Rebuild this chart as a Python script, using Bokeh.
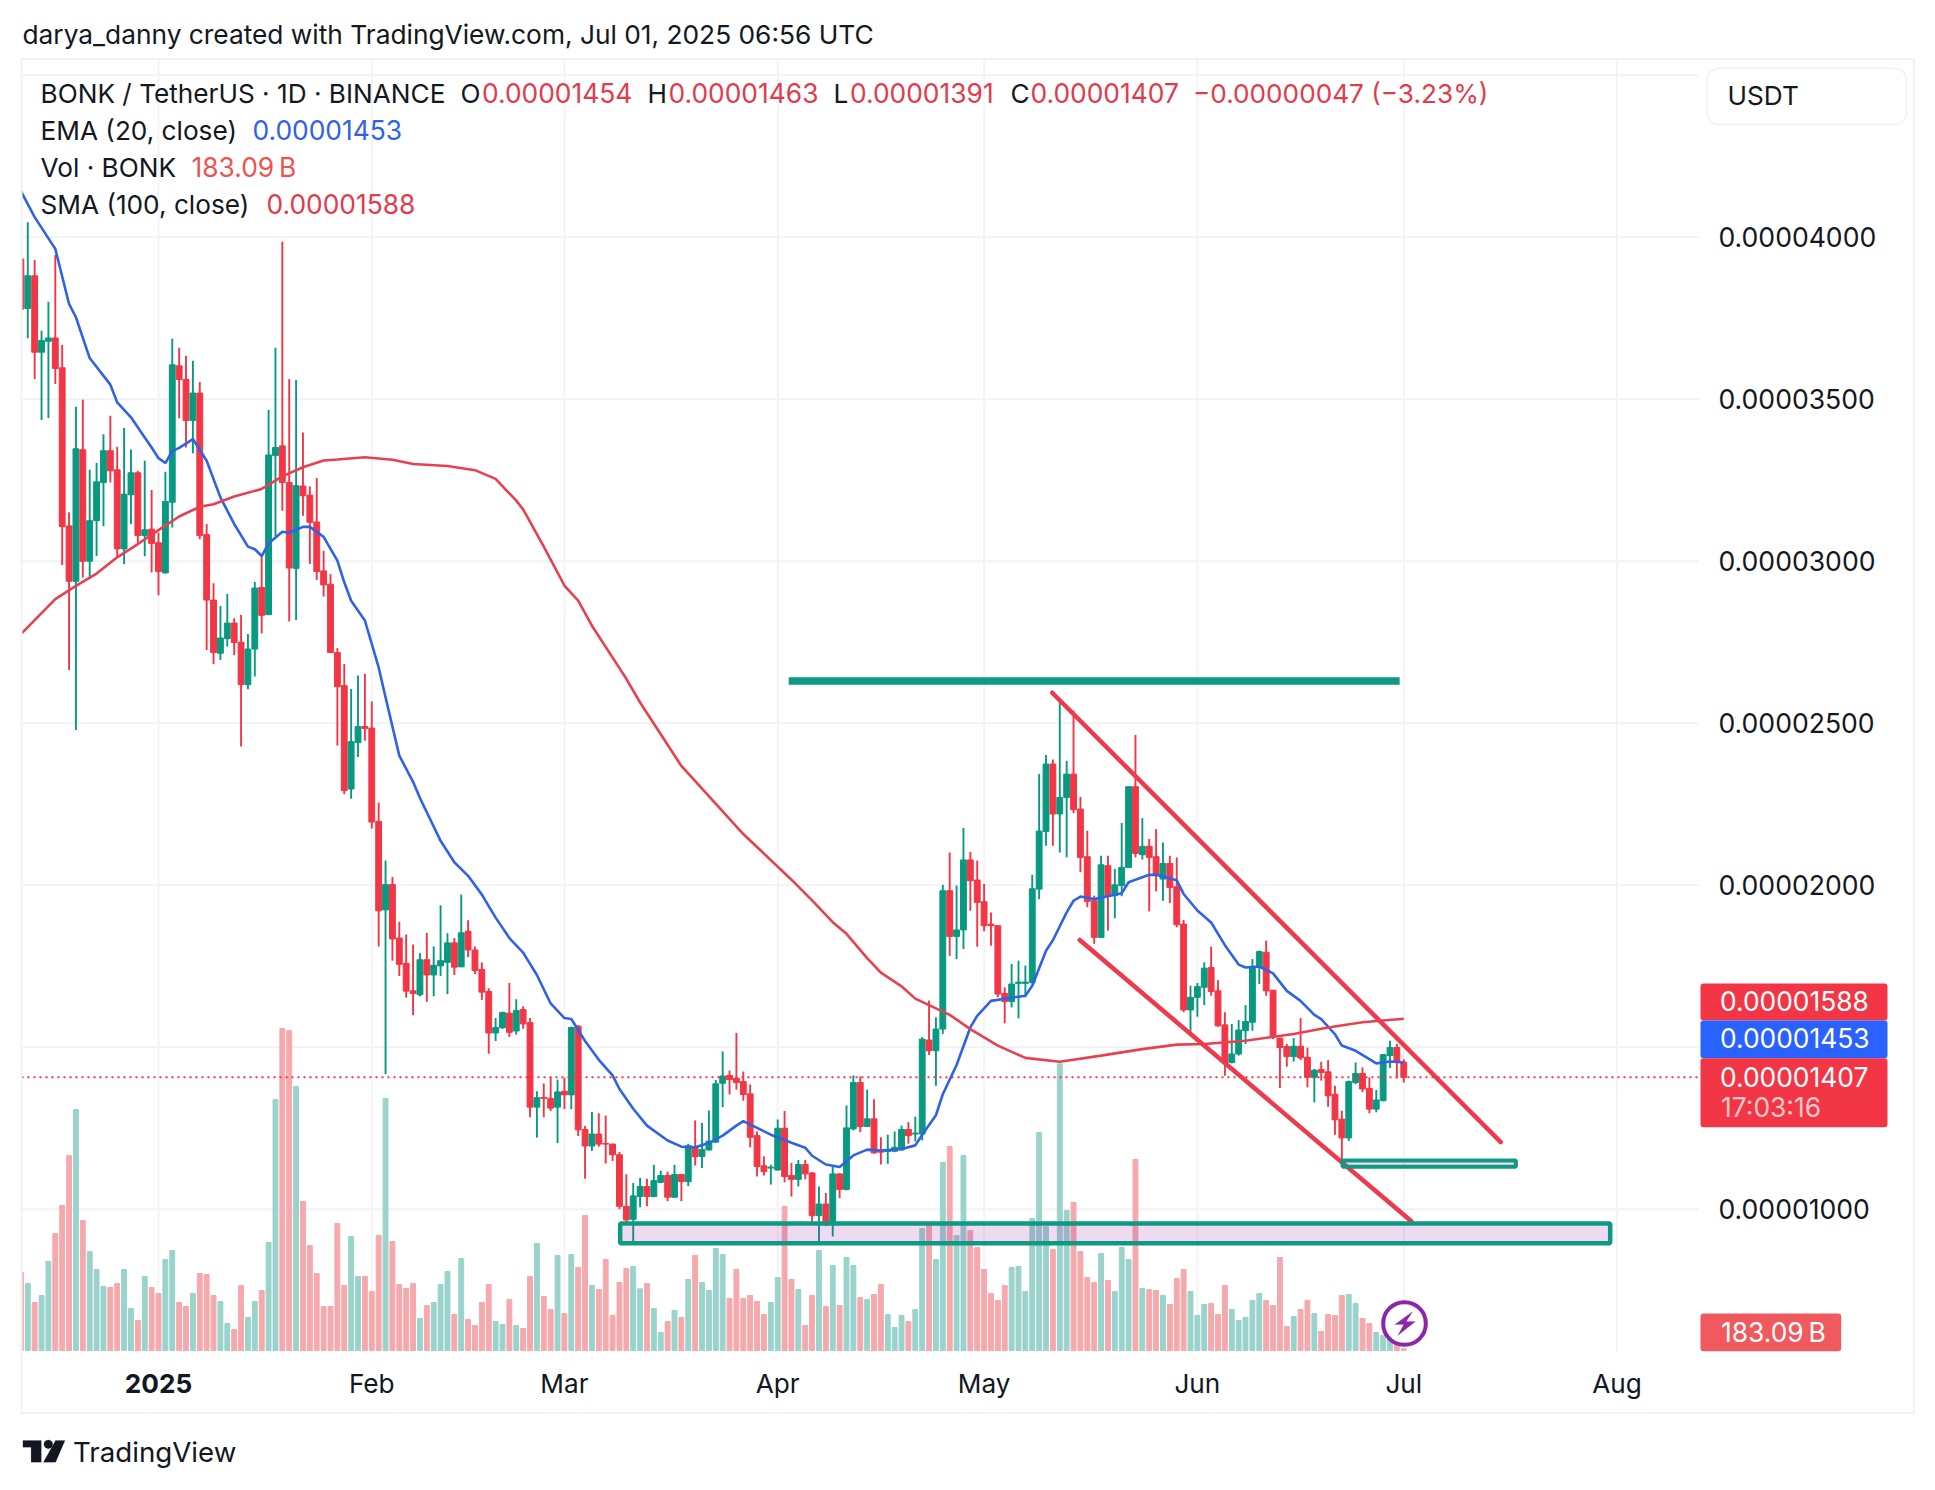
import math
from bokeh.plotting import figure
from bokeh.embed import file_html
from bokeh.resources import INLINE
from bokeh.models import (Label, BoxAnnotation, PolyAnnotation, FixedTicker, Range1d,
                          ColumnDataSource)

# ---- values are prices in units of 0.00000001 USDT, volumes in billions of BONK
first_day = -20  # days relative to 1 Jan 2025
open_prices = [3933,3780,3881,3645,3679,3689,3597,3109,2938,3344,3000,3125,3243,3341,3282,3038,3205,3273,3079,3099,
 3057,2964,3182,3603,3561,3434,3519,3082,2880,2716,2761,2809,2750,2619,2729,2919,2835,3326,3356,3243,
 2978,3232,3204,3121,2970,2929,2718,2616,2297,2440,2490,2485,2197,1924,2002,1837,1759,1674,1662,1770,
 1723,1751,1762,1822,1748,1858,1800,1740,1672,1544,1560,1605,1550,1616,1576,1315,1345,1342,1315,1364,
 1353,1565,1246,1195,1232,1203,1201,1168,1009,969,1039,1070,1039,1083,1104,1037,1107,1085,1193,1163,
 1183,1207,1389,1413,1404,1394,1356,1227,1134,1127,1121,1250,1104,1092,1138,1112,980,1016,955,1109,
 1061,1248,1391,1255,1279,1181,1178,1179,1183,1246,1232,1232,1522,1489,1556,1983,1842,1862,2078,2016,
 1949,1880,1875,1666,1641,1697,1697,1700,1988,2166,2374,2220,2271,2343,2235,2088,1952,1839,2060,1968,
 1999,2055,2304,2094,2120,2088,2019,2067,1995,1880,1615,1654,1685,1746,1674,1569,1453,1479,1551,1577,
 1746,1793,1676,1528,1502,1471,1503,1469,1407,1431,1424,1355,1278,1220,1391,1419,1373,1309,1335,1474,
 1499,1454]
high_prices = [3933,4046,3930,3711,3801,3945,3668,3151,3477,3498,3282,3303,3392,3449,3353,3411,3345,3279,3310,3220,
 3089,3276,3687,3659,3634,3619,3553,3115,2932,2862,2899,2824,2834,2775,2936,3017,3467,3659,3986,3562,
 3559,3397,3231,3257,3032,2960,2732,2683,2606,2647,2652,2567,2255,2076,2026,1887,1848,1817,1791,1853,
 1811,1938,1852,1837,1971,1892,1811,1762,1682,1590,1610,1698,1648,1626,1590,1364,1388,1408,1400,1406,
 1563,1568,1257,1300,1296,1289,1202,1177,1108,1081,1097,1094,1137,1119,1116,1137,1109,1202,1274,1266,
 1305,1399,1487,1428,1544,1425,1385,1240,1163,1137,1277,1303,1143,1152,1152,1114,1070,1050,1135,1111,
 1320,1413,1410,1369,1339,1222,1230,1240,1258,1269,1286,1531,1644,1592,2001,2101,1999,2177,2103,2076,
 2004,1916,1875,1685,1757,1767,1752,2032,2343,2402,2388,2577,2384,2539,2273,2168,1968,2091,2091,2050,
 2192,2304,2464,2207,2143,2173,2132,2091,2086,1893,1690,1698,1762,1810,1707,1608,1572,1584,1630,1772,
 1798,1829,1676,1530,1510,1528,1590,1499,1433,1455,1460,1381,1304,1397,1453,1438,1407,1368,1479,1520,
 1510,1463]
low_prices = [3778,3688,3562,3436,3442,3547,2988,2664,2479,2950,2945,3016,3108,3243,3012,2991,3115,3055,3015,2965,
 2895,2962,3104,3441,3351,3333,3068,2726,2682,2695,2737,2710,2428,2605,2644,2777,2835,3077,3156,2814,
 2818,3140,2991,2942,2891,2718,2431,2281,2267,2396,2446,2175,1811,1417,1767,1720,1653,1599,1657,1640,
 1657,1720,1664,1723,1748,1778,1726,1646,1480,1519,1557,1532,1539,1557,1284,1221,1284,1303,1204,1309,
 1309,1226,1094,1180,1193,1141,1149,1000,961,898,1006,1009,1037,1081,1025,1035,1025,1071,1135,1127,
 1181,1204,1315,1354,1369,1335,1191,1101,1104,1076,1119,1083,1039,1070,1092,957,898,948,916,1034,
 1058,1243,1238,1255,1171,1138,1140,1176,1181,1202,1209,1212,1476,1381,1541,1782,1772,1803,1921,1810,
 1858,1813,1654,1574,1623,1589,1654,1695,1957,2122,2122,2101,2086,2222,2040,1932,1819,1839,1860,1898,
 1966,2055,2086,2079,1919,1981,1952,1945,1870,1608,1543,1594,1630,1659,1563,1412,1450,1474,1510,1551,
 1695,1659,1525,1374,1440,1456,1460,1376,1330,1397,1316,1230,1150,1211,1386,1361,1296,1299,1333,1436,
 1404,1391]
close_prices = [3778,3881,3645,3681,3689,3595,3107,2938,3347,3000,3125,3245,3341,3279,3038,3207,3273,3079,3097,3055,
 2968,3184,3606,3561,3434,3519,3079,2880,2718,2763,2809,2749,2619,2729,2917,2833,3328,3351,3243,2979,
 3233,3202,3120,2968,2927,2718,2613,2292,2443,2490,2484,2195,1921,2002,1834,1756,1673,1666,1770,1723,
 1753,1767,1822,1747,1853,1800,1737,1670,1544,1561,1607,1546,1613,1572,1315,1344,1342,1312,1362,1353,
 1561,1245,1195,1232,1201,1201,1168,1009,967,1041,1070,1039,1088,1104,1037,1107,1085,1196,1162,1184,
 1210,1387,1411,1400,1391,1354,1222,1132,1116,1130,1250,1101,1092,1138,1109,980,1016,953,1109,1061,
 1251,1391,1255,1279,1174,1176,1181,1191,1246,1227,1235,1525,1489,1556,1983,1842,1862,2078,2014,1947,
 1875,1875,1664,1641,1695,1701,1701,1989,2167,2374,2220,2271,2343,2233,2086,1950,1839,2063,1968,2001,
 2055,2304,2098,2120,2086,2031,2067,1993,1878,1615,1654,1687,1744,1672,1566,1453,1479,1553,1579,1746,
 1795,1674,1530,1499,1471,1503,1467,1407,1429,1422,1350,1276,1220,1394,1419,1371,1309,1337,1477,1499,
 1456,1407]
volumes = [8460,7236,5184,5940,9612,12636,15660,21060,26028,14040,10692,8748,6912,6804,7236,8748,4536,3240,7992,6804,
 6156,9828,10800,5184,4752,6156,8316,8208,5940,5292,2916,2268,7020,3564,5292,6480,11664,27108,34776,34560,
 28512,16092,11340,8316,4752,4752,13716,7020,12312,7992,7992,6372,12420,27216,11772,7128,6696,7236,3456,4860,
 5184,7128,8532,3888,9936,3348,2700,5184,7128,3132,2808,5508,2700,2376,7992,11556,5832,4428,10260,3996,
 10368,8964,14580,7020,6588,9828,3780,7344,8856,9072,6660,7236,4536,1944,3132,4320,3564,7668,10260,7344,
 6480,11016,10368,5616,8748,5616,5940,5292,3888,5184,7884,15552,7668,6588,2700,5940,10800,4752,9180,4860,
 10044,9180,5724,5508,6048,7128,3888,2484,3780,3132,4428,13176,13824,9828,20304,22032,12420,21060,12960,11124,
 8748,6156,5400,7020,8964,9072,6372,14256,23544,13392,10908,30960,15120,15984,10692,7884,7344,10476,7560,6372,
 11124,9828,20628,6696,6588,6480,5940,4968,7776,8748,6372,3780,4968,5076,3888,7020,4428,3240,3564,5400,
 6156,5400,4860,10044,2592,3672,4428,5400,3996,2052,3888,3780,5940,6048,5076,3456,2916,1944,1620,2500,
 2000,183]
ema_days = [-20,-18,-15,-13,-12,-10,-7,-6,-4,-2,-1,0,1,2,3,5,7,9,11,13,14,15,16,18,19,21,22,24,26,27,28,30,32,33,35,37,38,41,43,45,47,49,51,53,55,57,59,60,62,64,66,67,69,71,74,76,78,80,82,84,85,87,89,92,94,95,97,99,101,103,105,108,110,111,113,114,116,118,119,121,126,127,129,130,132,133,134,136,140,141,144,145,148,149,151,153,155,157,158,160,162,164,166,168,169,171,172,174,176,177,179,181]
ema_values = [4142,4062,3964,3794,3753,3627,3545,3490,3444,3382,3351,3318,3303,3340,3350,3377,3310,3197,3115,3045,3037,3016,3055,3091,3088,3106,3106,3075,3002,2935,2878,2817,2672,2580,2400,2319,2269,2137,2071,2029,1971,1900,1837,1792,1723,1635,1590,1587,1519,1461,1413,1371,1310,1258,1212,1193,1191,1204,1227,1258,1272,1251,1230,1205,1190,1165,1138,1130,1166,1184,1181,1186,1197,1230,1290,1355,1445,1561,1597,1643,1659,1690,1798,1830,1916,1952,1965,1957,1975,2009,2032,2032,2015,1973,1922,1885,1815,1755,1746,1749,1728,1674,1643,1600,1587,1540,1505,1489,1463,1450,1456,1453]
sma_days = [-20,-17,-15,-12,-9,-6,-3,0,3,6,8,11,15,18,21,24,26,30,34,37,42,46,49,52,53,56,59,61,63,67,68,70,76,85,92,95,98,100,103,105,108,110,115,118,122,126,131,137,143,148,152,158,165,170,175,181]
sma_values = [2775,2840,2883,2924,2962,3012,3053,3096,3138,3168,3176,3200,3223,3262,3290,3311,3314,3321,3313,3300,3294,3281,3254,3187,3160,3045,2925,2878,2801,2670,2637,2564,2368,2158,2017,1953,1886,1850,1775,1730,1688,1650,1600,1556,1505,1467,1455,1474,1494,1508,1510,1520,1541,1561,1577,1588]
resistance_days, resistance_price = [91.6, 180.4], 2630
channel_upper_days, channel_upper_prices = [129.9, 195.1], [2594, 1207]
channel_lower_days, channel_lower_prices = [133.9, 182.1], [1831, 963]
zone_big = dict(left=67.1, right=211.0, top=956, bottom=895)
zone_small = dict(left=172.1, right=197.3, top=1150, bottom=1131)
last_price = 1407
price_ticks = [1000, 2000, 2500, 3000, 3500, 4000]
grid_prices = [1000, 1500, 2000, 2500, 3000, 3500, 4000, 4500]
month_days = [0, 31, 59, 90, 120, 151, 181, 212]
month_names = ["", "Feb", "Mar", "Apr", "May", "Jun", "Jul", "Aug"]

GREEN, RED, BLUE = "#089981", "#f23645", "#2f62e6"
INK, TEXT_RED, PALE = "#131722", "#e23b4c", "#f1f2f5"
FONT = "Inter"
FS = "26.2px"
FSN = "26.4px"
PANE_LEFT, PANE_RIGHT, PANE_TOP, PANE_BOTTOM = -19.913, 223.84, 4548.5, 557.7

n = len(open_prices)
assert n == len(high_prices) == len(low_prices) == len(close_prices) == len(volumes) == 202
days = [first_day + i for i in range(n)]
ups = [c >= o for o, c in zip(open_prices, close_prices)]
src = ColumnDataSource(dict(
    day=days, o=open_prices, h=high_prices, l=low_prices, c=close_prices, v=volumes,
    top=[max(a, b) for a, b in zip(open_prices, close_prices)],
    bot=[min(a, b) for a, b in zip(open_prices, close_prices)],
    col=[GREEN if u else RED for u in ups],
    vcol=["#9ad3cb" if u else "#f5a9ac" for u in ups],
))

# the frame fills the whole canvas so that every annotation stays unclipped
p = figure(width=1919, height=1474, output_backend="svg", toolbar_location=None,
           x_range=Range1d(-22.965, 255.96), y_range=Range1d(181.2, 4730.6),
           y_axis_location="right", min_border=0,
           background_fill_color="white", border_fill_color="white", outline_line_color=None)

p.extra_y_ranges = {"vol": Range1d(-13392, 145800)}
p.grid.visible = False

# axes
yax = p.yaxis[0]
yax.fixed_location = PANE_RIGHT
yax.ticker = FixedTicker(ticks=price_ticks)
yax.major_label_overrides = {t: f"{t * 1e-8:.8f}" for t in price_ticks}
yax.axis_line_color = None
yax.major_tick_line_color = None
yax.minor_tick_line_color = None
yax.major_label_standoff = 14
yax.major_label_text_font = FONT
yax.major_label_text_font_size = "26.6px"
yax.major_label_text_color = INK

xax = p.xaxis[0]
xax.fixed_location = PANE_BOTTOM
xax.ticker = FixedTicker(ticks=month_days)
xax.major_label_overrides = dict(zip(month_days, month_names))
xax.axis_line_color = None
xax.major_tick_line_color = None
xax.minor_tick_line_color = None
xax.major_label_standoff = 9
xax.major_label_text_font = FONT
xax.major_label_text_font_size = FS
xax.major_label_text_color = INK

# grid lines limited to the chart pane
p.segment(x0=[PANE_LEFT] * len(grid_prices), x1=[PANE_RIGHT] * len(grid_prices), y0=grid_prices, y1=grid_prices,
          line_color=PALE, line_width=2, level="underlay")
p.segment(x0=month_days, x1=month_days, y0=[PANE_BOTTOM] * len(month_days), y1=[PANE_TOP] * len(month_days),
          line_color="#f3f4f6", line_width=2, level="underlay")

# marks
p.vbar(x="day", top="v", bottom=0, width=0.71, color="vcol", source=src, y_range_name="vol")
p.segment(x0="day", x1="day", y0="l", y1="h", color="col", line_width=1.9, source=src)
p.vbar(x="day", top="top", bottom="bot", width=0.85, color="col", source=src)
p.line([PANE_LEFT, PANE_RIGHT], [last_price, last_price], line_color=RED, line_width=2, line_dash=[2, 4])
p.line(ema_days, ema_values, line_color=BLUE, line_width=2.6)
p.line(sma_days, sma_values, line_color="#e8404f", line_width=2.6)

p.segment(x0=[resistance_days[0]], x1=[resistance_days[1]], y0=[resistance_price], y1=[resistance_price],
          line_color="#0e9a82", line_width=7.5)
p.line(channel_upper_days, channel_upper_prices, line_color="#ee3a4b", line_width=4.5, line_cap="round")
p.line(channel_lower_days, channel_lower_prices, line_color="#ee3a4b", line_width=4.5, line_cap="round")
p.quad(left=[zone_big["left"]], right=[zone_big["right"]], top=[zone_big["top"]], bottom=[zone_big["bottom"]],
       fill_color="#9c27b0", fill_alpha=0.17, line_color="#0e9a82", line_width=4.5)
p.quad(left=[zone_small["left"]], right=[zone_small["right"]], top=[zone_small["top"]], bottom=[zone_small["bottom"]],
       fill_color="#9c27b0", fill_alpha=0.17, line_color="#0e9a82", line_width=4)


def txt(x, y, text, color=INK, size=FS, style="normal", align="left", alpha=1.0):
    p.add_layout(Label(x=x, y=y, x_units="canvas", y_units="canvas", text=text, text_color=color,
                       text_font=FONT, text_font_size=size, text_font_style=style, text_align=align,
                       text_baseline="middle", text_alpha=alpha))


def box(l, r, t, b, fill=None, line=None, lw=1, radius=0):
    p.add_layout(BoxAnnotation(left=l, right=r, top=t, bottom=b,
                               left_units="canvas", right_units="canvas", top_units="canvas", bottom_units="canvas",
                               fill_color=fill, fill_alpha=1 if fill else 0, line_color=line, line_width=lw,
                               line_alpha=1 if line else 0, border_radius=radius, level="annotation"))


def poly(points, color):
    p.add_layout(PolyAnnotation(xs=[a for a, _ in points], ys=[b for _, b in points],
                                xs_units="canvas", ys_units="canvas",
                                fill_color=color, fill_alpha=1, line_color=color, line_width=0.5))


# mask left of the pane, then the outer frame
box(0, 20.5, 59, 1352, fill="white")
box(21, 1913.5, 58.5, 1412.7, line=PALE, lw=2)

# header and legend
txt(22, 34, "darya_danny created with TradingView.com, Jul 01, 2025 06:56 UTC", size="26.3px")
txt(40, 92.8, "BONK / TetherUS · 1D · BINANCE")
for x, s in [(460, "O"), (647, "H"), (833, "L"), (1010, "C")]:
    txt(x, 92.8, s)
for x, s in [(481.5, "0.00001454"), (668, "0.00001463"), (849.5, "0.00001391"), (1030, "0.00001407")]:
    txt(x, 92.8, s, TEXT_RED, FSN)
txt(1192.5, 92.8, "−0.00000047 (−3.23%)", TEXT_RED, "26.2px")
txt(40, 129.8, "EMA (20, close)")
txt(252, 129.8, "0.00001453", "#2f62e6", FSN)
txt(40, 166.8, "Vol · BONK")
txt(191, 166.8, "183.09\u2009B", "#ef5350", FSN)
txt(40, 203.8, "SMA (100, close)")
txt(266, 203.8, "0.00001588", TEXT_RED, FSN)

# price scale
box(1706.6, 1906, 67.7, 124, fill="white", line="#f3f4f6", lw=2, radius=12)
txt(1727, 94.5, "USDT")
box(1700, 1887, 983, 1020, fill=RED, radius=3)
box(1700, 1887, 1020, 1057.7, fill="#2962ff", radius=3)
box(1700, 1887, 1057.7, 1126.7, fill=RED, radius=3)
box(1700, 1840.7, 1313, 1350.7, fill="#f0595e", radius=3)
txt(1719.5, 1000.8, "0.00001588", "white", FSN)
txt(1719.5, 1037, "0.00001453", "white", FSN)
txt(1719.5, 1076, "0.00001407", "white", FSN)
txt(1720.5, 1106, "17:03:16", "#fbc8cd", FSN)
txt(1720.5, 1331, "183.09\u2009B", "white", FSN)

# year label on the time scale
txt(158, 1383, "2025", "#131722", style="bold", align="center")

# lightning mark
box(1382.7, 1425.3, 1301.7, 1344.3, fill="white", line="#8e24aa", lw=4, radius=21)
poly([(1412.3, 1311), (1394.3, 1324), (1403.3, 1324), (1397.3, 1335), (1415, 1321), (1405.7, 1321)], "#8e24aa")

# footer logo
poly([(22.4, 1440), (40.8, 1440), (40.8, 1461.7), (30.6, 1461.7), (30.6, 1446.7), (22.4, 1446.7)], "#131722")
poly([(47.8 + 4.4 * math.cos(a * math.pi / 8), 1443.8 + 4.4 * math.sin(a * math.pi / 8)) for a in range(16)], "#131722")
poly([(55, 1440), (64.5, 1440), (55.1, 1461.7), (42.9, 1461.7)], "#131722")
txt(72.5, 1451.5, "TradingView", size="27.7px")

open("out.html", "w").write(file_html(p, INLINE))
